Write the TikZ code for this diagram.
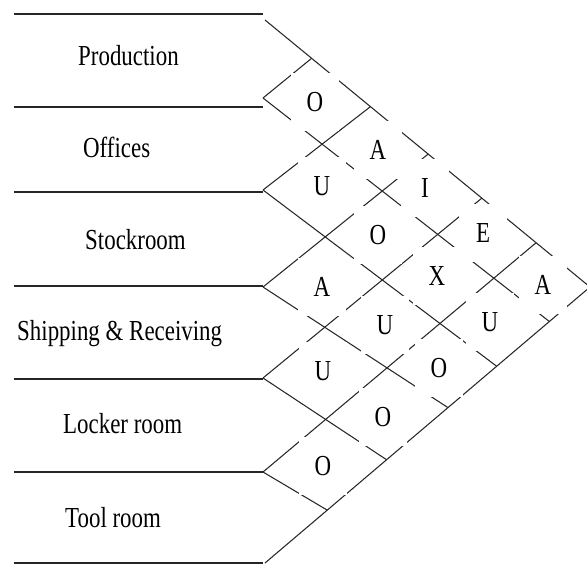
\documentclass[tikz,border=0pt]{standalone}
\usepackage{fontspec}
\setmainfont{Liberation Serif}
\usepackage{graphicx}
\newcommand{\narrowtxt}[1]{\scalebox{0.79}[1]{#1}}
\begin{document}
\begin{tikzpicture}[x=1pt,y=-1pt,
  hline/.style={line width=1.4pt, draw=black!85},
  gridline/.style={line width=1.05pt, draw=black!85},
  lab/.style={font=\fontsize{29}{34}\selectfont, anchor=base west, inner sep=0pt},
  rel/.style={font=\fontsize{29}{34}\selectfont, fill=white, minimum width=48pt, minimum height=58pt, inner sep=0pt}]
\useasboundingbox (0,0) rectangle (587,565);
\clip (0,0) rectangle (587,565);
% horizontal row boundaries
\coordinate (h0a) at (14,14);  \coordinate (h0b) at (263,14);
\coordinate (h1a) at (14,107); \coordinate (h1b) at (263,107);
\coordinate (h2a) at (14,192); \coordinate (h2b) at (263,192);
\coordinate (h3a) at (14,286); \coordinate (h3b) at (263,286);
\coordinate (h4a) at (14,379); \coordinate (h4b) at (263,379);
\coordinate (h5a) at (14,472); \coordinate (h5b) at (263,472);
\coordinate (h6a) at (14,563); \coordinate (h6b) at (263,563);
\draw[hline] (h0a) -- (h0b);
\draw[hline] (h1a) -- (h1b);
\draw[hline] (h2a) -- (h2b);
\draw[hline] (h3a) -- (h3b);
\draw[hline] (h4a) -- (h4b);
\draw[hline] (h5a) -- (h5b);
\draw[hline] (h6a) -- (h6b);
% lattice vertices
\coordinate (L0) at (265,20);
\coordinate (L1) at (263,98);
\coordinate (L2) at (263,190);
\coordinate (L3) at (263,287);
\coordinate (L4) at (263,378);
\coordinate (L5) at (263,472);
\coordinate (L6) at (265,563);
\coordinate (P) at (590,287);
% direction points of the down-right lines
\coordinate (d1) at (550,322);
\coordinate (d2) at (495,365);
\coordinate (d3) at (447,407);
\coordinate (d4) at (387,460);
\coordinate (d5) at (327,510);
% direction points of the up-right lines
\coordinate (u1) at (312,58);
\coordinate (u2) at (370,107);
\coordinate (u3) at (427,155);
\coordinate (u4) at (482,198);
\coordinate (u5) at (537,242);
% end points on the outer edges
\coordinate (e1) at (intersection of L1--d1 and L6--P);
\coordinate (e2) at (intersection of L2--d2 and L6--P);
\coordinate (e3) at (intersection of L3--d3 and L6--P);
\coordinate (e4) at (intersection of L4--d4 and L6--P);
\coordinate (e5) at (intersection of L5--d5 and L6--P);
\coordinate (t1) at (intersection of L1--u1 and L0--P);
\coordinate (t2) at (intersection of L2--u2 and L0--P);
\coordinate (t3) at (intersection of L3--u3 and L0--P);
\coordinate (t4) at (intersection of L4--u4 and L0--P);
\coordinate (t5) at (intersection of L5--u5 and L0--P);
% outer edges
\draw[gridline] (L0) -- (P) -- (L6);
% interior lines
\draw[gridline] (L1) -- (e1);
\draw[gridline] (L2) -- (e2);
\draw[gridline] (L3) -- (e3);
\draw[gridline] (L4) -- (e4);
\draw[gridline] (L5) -- (e5);
\draw[gridline] (L1) -- (t1);
\draw[gridline] (L2) -- (t2);
\draw[gridline] (L3) -- (t3);
\draw[gridline] (L4) -- (t4);
\draw[gridline] (L5) -- (t5);
% relationship letters
\node[rel] (r12) at (315,102) {\narrowtxt{O}};
\node[rel] (r13) at (378,150) {\narrowtxt{A}};
\node[rel] (r23) at (322,186) {\narrowtxt{U}};
\node[rel] (r14) at (425,188) {\narrowtxt{I}};
\node[rel] (r24) at (378,235) {\narrowtxt{O}};
\node[rel] (r15) at (483,233) {\narrowtxt{E}};
\node[rel] (r34) at (322,287) {\narrowtxt{A}};
\node[rel] (r25) at (437,276) {\narrowtxt{X}};
\node[rel] (r16) at (543,285) {\narrowtxt{A}};
\node[rel] (r35) at (385,325) {\narrowtxt{U}};
\node[rel] (r26) at (490,322) {\narrowtxt{U}};
\node[rel] (r45) at (323,371) {\narrowtxt{U}};
\node[rel] (r36) at (439,368) {\narrowtxt{O}};
\node[rel] (r46) at (383,417) {\narrowtxt{O}};
\node[rel] (r56) at (323,466) {\narrowtxt{O}};
% department labels
\node[lab] (dep1) at (78,65) {\narrowtxt{Production}};
\node[lab] (dep2) at (83,157) {\narrowtxt{Offices}};
\node[lab] (dep3) at (85,249) {\narrowtxt{Stockroom}};
\node[lab] (dep4) at (17,340) {\narrowtxt{Shipping \& Receiving}};
\node[lab] (dep5) at (63,433) {\narrowtxt{Locker room}};
\node[lab] (dep6) at (65,527) {\narrowtxt{Tool room}};
\end{tikzpicture}
\end{document}
